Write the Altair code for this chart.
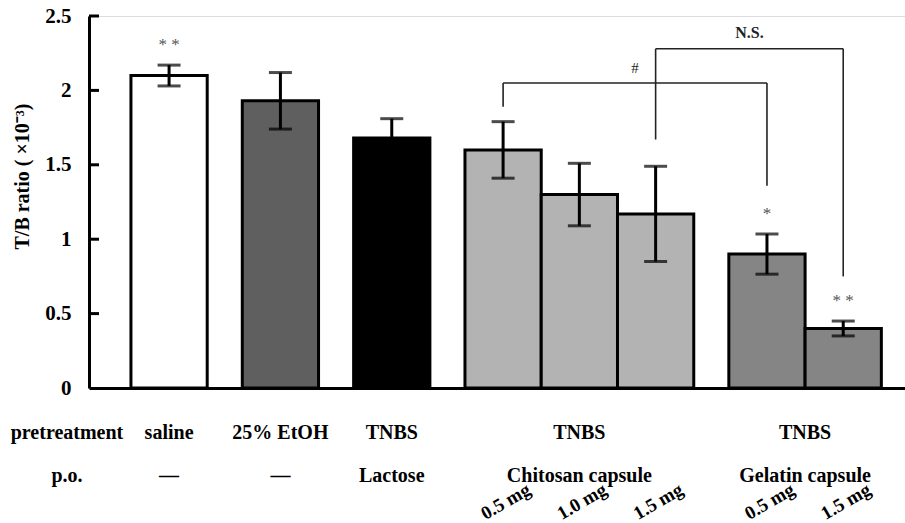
import altair as alt
import pandas as pd

# ---- data ----
groups = ["saline", "etoh", "lactose", "chitosan", "chitosan", "chitosan", "gelatin", "gelatin"]
means = [2.10, 1.93, 1.68, 1.60, 1.30, 1.17, 0.90, 0.40]
sds = [0.07, 0.19, 0.13, 0.19, 0.21, 0.32, 0.135, 0.05]
colors = ["#ffffff", "#5f5f5f", "#000000", "#b3b3b3", "#b3b3b3", "#b3b3b3", "#858585", "#858585"]
stars = ["* *", "", "", "", "", "", "*", "* *"]
doses = ["", "", "", "0.5 mg", "1.0 mg", "1.5 mg", "0.5 mg", "1.5 mg"]

group_order = ["saline", "etoh", "lactose", "chitosan", "gelatin"]
pretreatment = ["saline", "25% EtOH", "TNBS", "TNBS", "TNBS"]
po = ["\u2014", "\u2014", "Lactose", "Chitosan capsule", "Gelatin capsule"]

# brackets: (left bar index, right bar index, level, left leg end, right leg end, label)
br_left = [3, 5]
br_right = [6, 7]
br_level = [2.05, 2.28]
br_left_end = [1.89, 1.67]
br_right_end = [1.36, 0.75]
br_label = ["#", "N.S."]

y_ticks = [0, 0.5, 1.0, 1.5, 2.0, 2.5]

# ---- layout of bars along x (bar width = 1 unit, gap between groups) ----
GAP = 0.46
START = 0.55
XMAX = 10.70
pos = []
cur = START
prev = None
for g in groups:
    if prev is not None and g != prev:
        cur += GAP
    pos.append(cur + 0.5)
    cur += 1
    prev = g

bars = pd.DataFrame({
    "pos": pos,
    "x0": [p - 0.5 for p in pos],
    "x1": [p + 0.5 for p in pos],
    "mean": means,
    "lo": [m - s for m, s in zip(means, sds)],
    "hi": [m + s for m, s in zip(means, sds)],
    "color": colors,
    "star": stars,
    "dose": doses,
})

gpos = [sum(p for p, g in zip(pos, groups) if g == gg) / groups.count(gg) for gg in group_order]
grp = pd.DataFrame({"pos": gpos, "pre": pretreatment, "po": po})

segs = []
for l, r, lev, le, re_, lab in zip(br_left, br_right, br_level, br_left_end, br_right_end, br_label):
    segs.append({"x": pos[l], "x2": pos[l], "y": le, "y2": lev})
    segs.append({"x": pos[l], "x2": pos[r], "y": lev, "y2": lev})
    segs.append({"x": pos[r], "x2": pos[r], "y": re_, "y2": lev})
segdf = pd.DataFrame(segs)
brlab = pd.DataFrame({
    "x": [(pos[l] + pos[r]) / 2 for l, r in zip(br_left, br_right)],
    "y": br_level,
    "label": br_label,
})
tickdf = pd.DataFrame({"v": y_ticks[1:]})

FONT = "Liberation Serif"

xs = alt.Scale(domain=[0, XMAX], nice=False, zero=False)
ys = alt.Scale(domain=[0, 2.5], nice=False)

X = alt.X("x0:Q", scale=xs,
          axis=alt.Axis(labels=False, ticks=False, grid=False, title=None,
                        domainWidth=3, domainColor="black"))
Y = alt.Y("mean:Q", scale=ys,
          axis=alt.Axis(values=y_ticks, format=".1~f", ticks=False, grid=False,
                        domainWidth=3, domainColor="black", labelPadding=18,
                        labelFont=FONT, labelFontSize=21, labelFontWeight="bold",
                        labelColor="black",
                        title="T/B ratio ( \u00d710\u207b\u00b3)", titleFont=FONT,
                        titleFontSize=20, titleFontWeight="bold", titleColor="black",
                        titleAngle=270, titleX=-67, titleY=160, titleAlign="center",
                        titleBaseline="middle"))

bar_layer = alt.Chart(bars).mark_bar(stroke="black", strokeWidth=3).encode(
    x=X, x2="x1:Q", y=Y, y2=alt.datum(0),
    fill=alt.Fill("color:N", scale=None),
)

err = alt.Chart(bars).mark_rule(color="black", strokeWidth=3).encode(
    x=alt.X("pos:Q", scale=xs), y=alt.Y("lo:Q", scale=ys), y2="hi:Q")
cap_hi = alt.Chart(bars).mark_tick(color="black", thickness=3, size=23, orient="horizontal").encode(
    x=alt.X("pos:Q", scale=xs), y=alt.Y("hi:Q", scale=ys))
cap_lo = alt.Chart(bars).mark_tick(color="black", thickness=3, size=23, orient="horizontal").encode(
    x=alt.X("pos:Q", scale=xs), y=alt.Y("lo:Q", scale=ys))

star_txt = alt.Chart(bars).mark_text(font=FONT, fontSize=17, color="#555555", dy=-20,
                                     baseline="middle").encode(
    x=alt.X("pos:Q", scale=xs), y=alt.Y("hi:Q", scale=ys), text="star:N")

ticks = alt.Chart(tickdf).mark_rule(color="black", strokeWidth=3).encode(
    x=alt.value(0), x2=alt.value(10), y=alt.Y("v:Q", scale=ys))

br_lines = alt.Chart(segdf).mark_rule(color="#222222", strokeWidth=1.6).encode(
    x=alt.X("x:Q", scale=xs), x2="x2:Q", y=alt.Y("y:Q", scale=ys), y2="y2:Q")
br_text = alt.Chart(brlab).transform_filter("datum.label == '#'").mark_text(
    font=FONT, fontSize=15, color="#222222", dy=-15, baseline="middle").encode(
    x=alt.X("x:Q", scale=xs), y=alt.Y("y:Q", scale=ys), text="label:N")
ns_text = alt.Chart(brlab).transform_filter("datum.label != '#'").mark_text(
    font=FONT, fontSize=16, fontWeight="bold", color="#222222", dy=-16, baseline="middle").encode(
    x=alt.X("x:Q", scale=xs), y=alt.Y("y:Q", scale=ys), text="label:N")

pre_txt = alt.Chart(grp).mark_text(font=FONT, fontSize=20, fontWeight="bold", color="black",
                                   baseline="middle").encode(
    x=alt.X("pos:Q", scale=xs), y=alt.value(417), text="pre:N")
po_txt = alt.Chart(grp).mark_text(font=FONT, fontSize=20, fontWeight="bold", color="black",
                                  baseline="middle").encode(
    x=alt.X("pos:Q", scale=xs), y=alt.value(460), text="po:N")
row_lab = alt.Chart(pd.DataFrame({"t": ["pretreatment", "p.o."], "yy": [417, 460]})).mark_text(
    font=FONT, fontSize=20, fontWeight="bold", color="black", baseline="middle").encode(
    x=alt.value(-22), y=alt.Y("yy:Q", scale=None), text="t:N")
dose_txt = alt.Chart(bars).mark_text(font=FONT, fontSize=19, fontWeight="bold", color="black",
                                     baseline="middle", angle=330, dx=3).encode(
    x=alt.X("pos:Q", scale=xs), y=alt.value(487), text="dose:N")

chart = alt.layer(
    bar_layer, err, cap_hi, cap_lo, star_txt, ticks, br_lines, br_text, ns_text,
    pre_txt, po_txt, row_lab, dose_txt,
).properties(
    width=816, height=372, autosize="none",
    padding={"left": 89, "top": 16, "right": 0, "bottom": 135},
).configure_view(stroke=None).configure(background="white")

chart.save("out.html", embed_options={"renderer": "svg", "actions": False})
